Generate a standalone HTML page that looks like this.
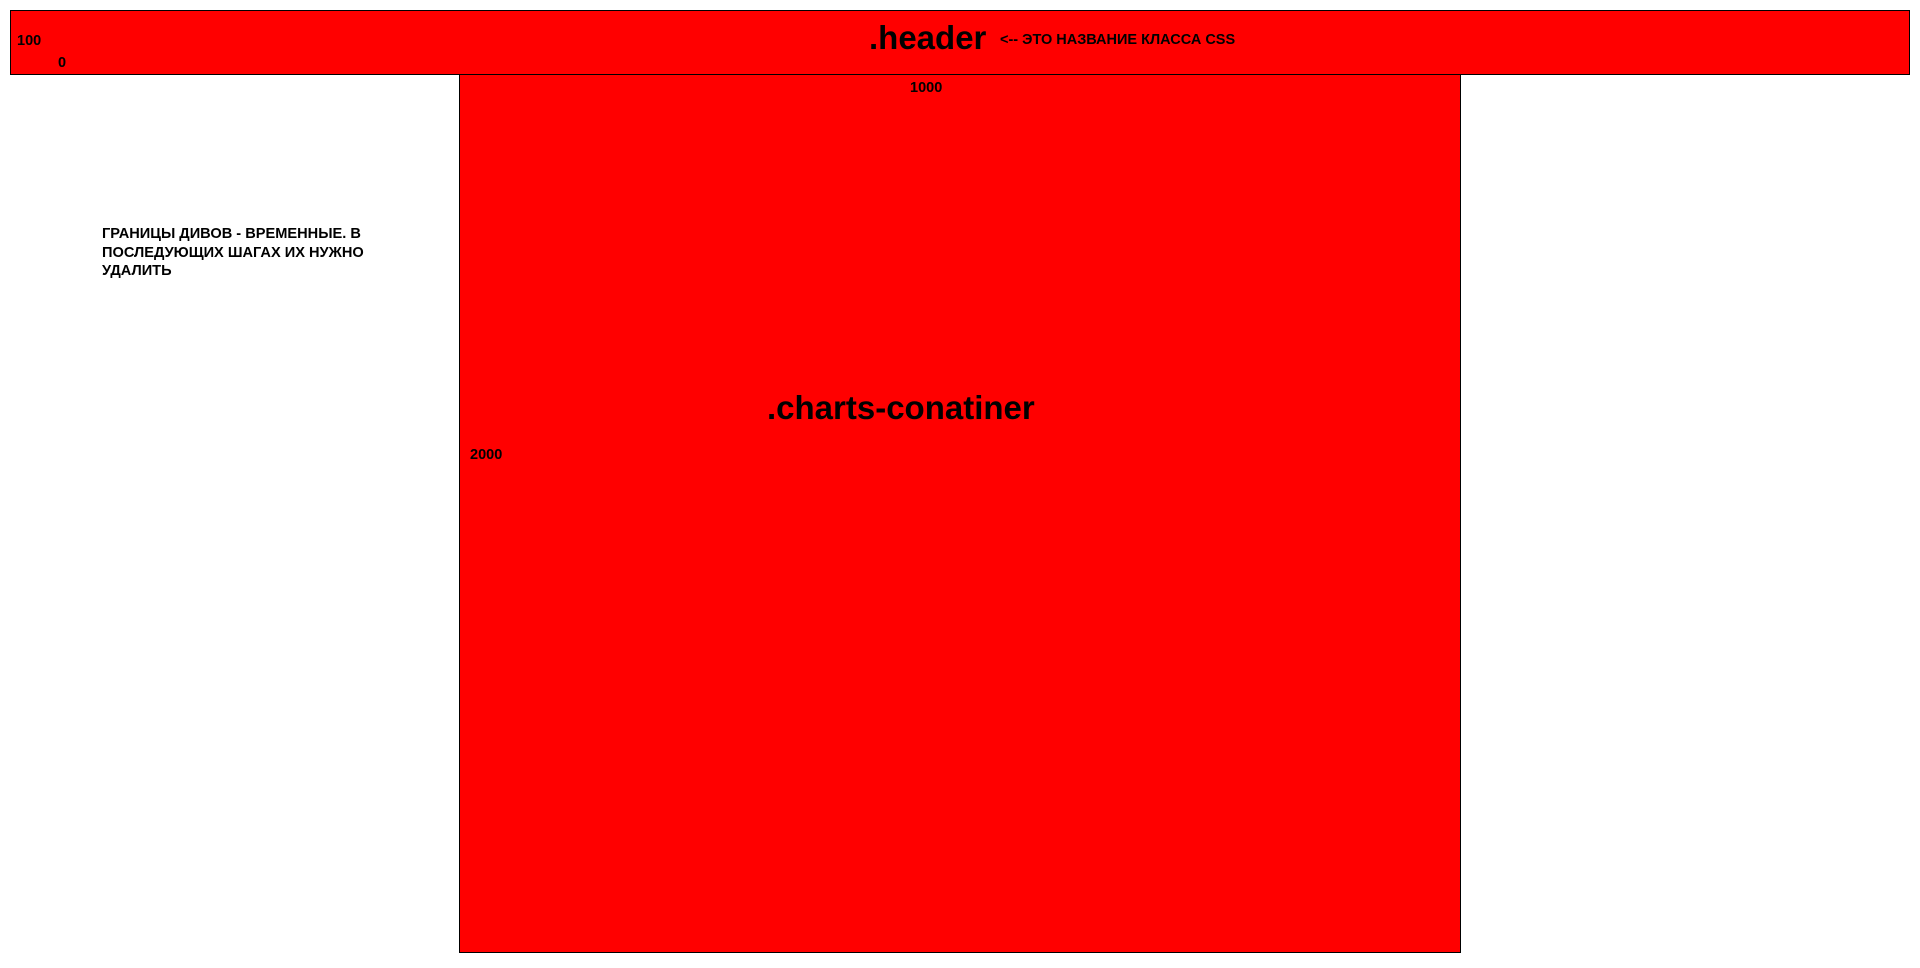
<!DOCTYPE html>
<html><head><meta charset="utf-8"><style>
body{margin:0;width:1920px;height:968px;background:#fff;position:relative;overflow:hidden;font-family:"Liberation Sans",sans-serif;font-weight:bold;color:#000}
.box{position:absolute;background:#f00;border:1px solid #000;box-sizing:border-box}
.t{position:absolute;white-space:nowrap;line-height:1}
</style></head><body>
<div class="box" style="left:10px;top:10px;width:1900px;height:65px"></div>
<div class="box" style="left:459px;top:74px;width:1002px;height:879px"></div>
<div class="t" style="left:17px;top:34px;font-size:14.5px">100</div>
<div class="t" style="left:58px;top:56px;font-size:14.5px">0</div>
<div class="t" style="left:869px;top:21px;font-size:33px;letter-spacing:0px">.header</div>
<div class="t" style="left:1000px;top:33px;font-size:14.5px;letter-spacing:0px">&lt;-- ЭТО НАЗВАНИЕ КЛАССА CSS</div>
<div class="t" style="left:910px;top:81px;font-size:14.5px">1000</div>
<div class="t" style="left:767px;top:391px;font-size:33px;letter-spacing:0px">.charts-conatiner</div>
<div class="t" style="left:470px;top:448px;font-size:14.5px">2000</div>
<div class="t" style="left:102px;top:225px;font-size:14.6px;line-height:18.5px">ГРАНИЦЫ ДИВОВ - ВРЕМЕННЫЕ. В<br>ПОСЛЕДУЮЩИХ ШАГАХ ИХ НУЖНО<br>УДАЛИТЬ</div>
</body></html>
